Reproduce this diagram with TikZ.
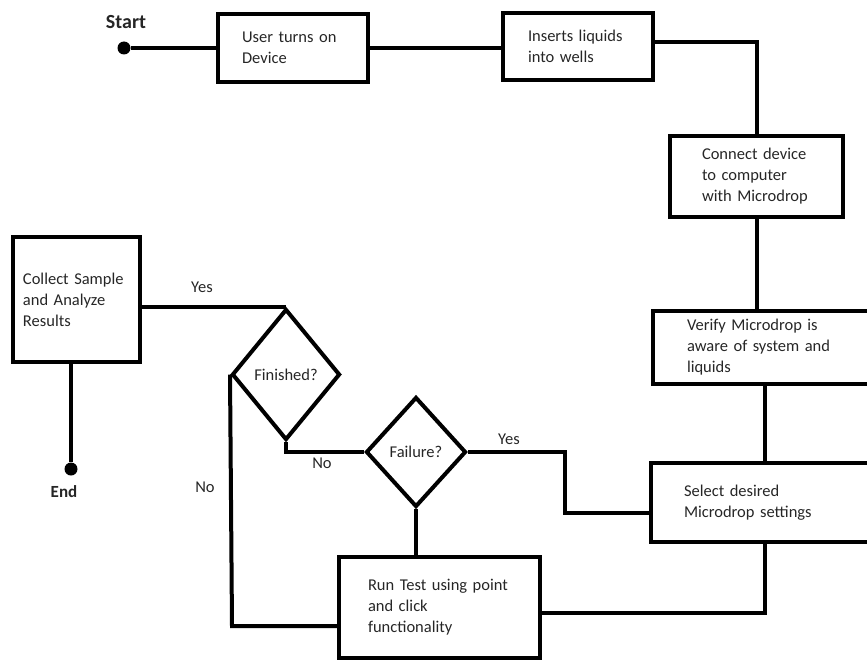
\documentclass[tikz,border=0pt]{standalone}
\usepackage{fontspec}
\setmainfont{Carlito}
\usetikzlibrary{shapes.geometric}
\definecolor{ink}{RGB}{0,0,0}
\definecolor{txt}{RGB}{38,38,38}
\hyphenpenalty=10000
\tikzset{
  conn/.style={line width=4pt,draw=ink},
  box/.style={draw=ink,line width=4pt,rectangle,align=left,inner ysep=0pt,text=txt,font=\fontsize{16.5}{21}\selectfont},
  dec/.style={draw=ink,line width=4pt,diamond,inner sep=0pt,text=txt,font=\fontsize{16.5}{21}\selectfont},
  lab/.style={text=txt,inner sep=0pt,font=\fontsize{16.5}{21}\selectfont},
  term/.style={text=txt,inner sep=0pt,font=\fontsize{20}{24}\selectfont\bfseries},
  dot/.style={circle,fill=ink,inner sep=0pt,minimum size=13pt}
}

\begin{document}
\begin{tikzpicture}[x=1pt,y=-1pt]
  \useasboundingbox (0,0) rectangle (867,661);
  \node[dot] (start) at (124,48) {};
  \node[term] (startlab) at (126,22) {Start};
  \node[box,minimum width=150pt,minimum height=68pt,inner xsep=24pt,text width=102pt] (device) at (293,48) {User turns on\\Device};
  \node[box,minimum width=150pt,minimum height=67pt,inner xsep=25pt,text width=100pt] (wells) at (578,46.5) {Inserts liquids\\into wells};
  \node[box,minimum width=173pt,minimum height=81pt,inner xsep=32pt,text width=109pt] (connect) at (756.5,176.5) {Connect device\\to computer\\with Microdrop};
  \node[box,minimum width=224pt,minimum height=73pt,inner xsep=34pt,text width=156pt] (verify) at (765,347.5) {Verify Microdrop is\\aware of system and\\liquids};
  \node[box,minimum width=228pt,minimum height=79pt,inner xsep=33pt,text width=162pt] (select) at (765,502.5) {Select desired\\Microdrop settings};
  \node[dec,minimum width=100pt,minimum height=110pt] (failure) at (416,452) {Failure?};
  \node[box,minimum width=201pt,minimum height=101pt,inner xsep=29pt,text width=143pt] (runtest) at (439.5,607.5) {Run Test using point\\and click\\functionality};
  \node[dec,minimum width=108pt,minimum height=131pt] (finished) at (286,374.5) {Finished?};
  \node[box,minimum width=127pt,minimum height=125pt,inner xsep=10pt,text width=107pt] (collect) at (76.5,299.5) {Collect Sample\\and Analyze\\Results};
  \node[dot] (stop) at (71,469) {};
  \node[term,font=\fontsize{17}{20}\selectfont\bfseries] (stoplab) at (64,492) {End};
  \coordinate (wj) at (0,42);
  \coordinate (yj) at (565,513);
  \coordinate (rj) at (0,613);
  \coordinate (nj) at (232,626);
  \draw[conn] (start) -- (device.west);
  \draw[conn] (device.east) -- (device.east -| wells.west);
  \draw[conn] (wells.east |- wj) -| (connect.north);
  \draw[conn] (connect.south) -- (connect.south |- verify.north);
  \draw[conn] (verify.south) -- (select.north);
  \draw[conn] (failure.east) -| (yj) -- (yj -| select.west);
  \node[lab] at (509,439) {Yes};
  \draw[conn] (failure.south) -- (failure.south |- runtest.north);
  \draw[conn] (runtest.east |- rj) -| (select.south);
  \draw[conn] (runtest.west |- nj) -- (nj) -- (finished.west);
  \node[lab] at (205,487) {No};
  \draw[conn] (finished.south) |- (failure.west);
  \node[lab] at (322,463) {No};
  \draw[conn] (collect.east |- finished.north) -- (finished.north);
  \node[lab] at (202,287) {Yes};
  \draw[conn] (stop) -- (stop |- collect.south);
\end{tikzpicture}
\end{document}
